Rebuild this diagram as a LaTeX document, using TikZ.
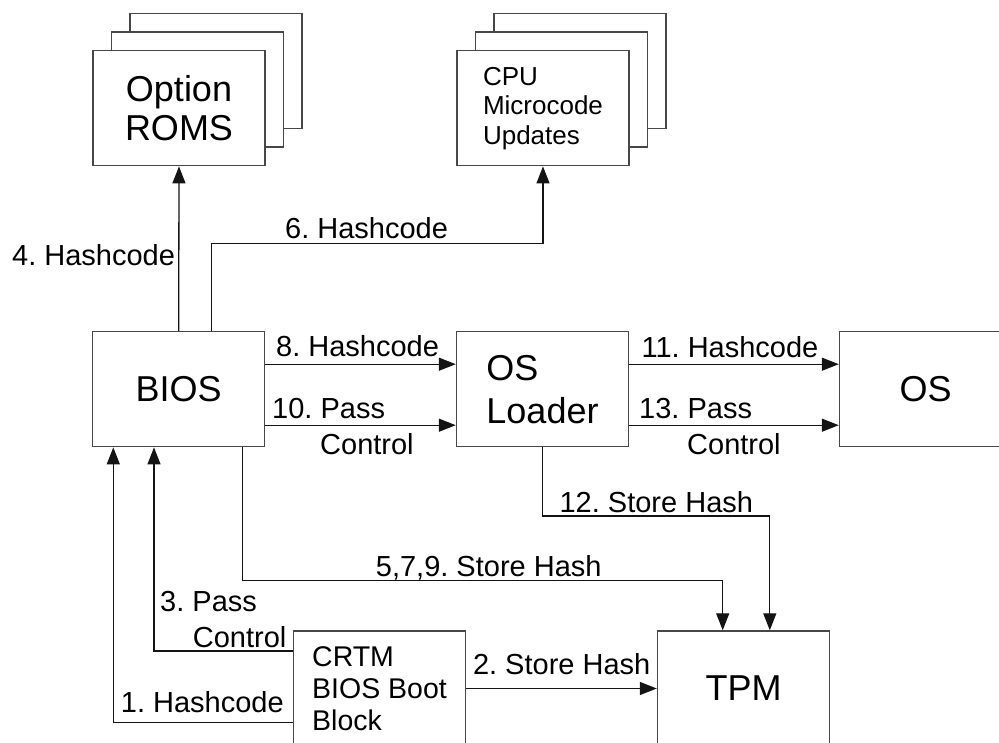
\documentclass[tikz,border=0pt]{standalone}
\usepackage{fontspec}
\setmainfont{Liberation Sans}
\usetikzlibrary{arrows.meta,calc}
\frenchspacing
\begin{document}
\begin{tikzpicture}[x=1pt,y=-1pt,
  box/.style={draw=black!72, line width=1.4pt, fill=white,
    minimum width=172pt, minimum height=115pt, inner sep=0pt},
  big/.style={font=\fontsize{36}{43}\selectfont},
  lbl/.style={font=\fontsize{29}{36}\selectfont, inner sep=0pt, anchor=base west},
  wire/.style={draw=black!92, line width=1.3pt},
  flow/.style={wire, -{Triangle[length=17pt,width=13pt]}}
]
\useasboundingbox (0,0) rectangle (999,743);

% stacked sheets behind the option ROMs and microcode updates
\node[box] (rom3) at (216,71.2) {};
\node[box] (rom2) at (197.5,89.7) {};
\node[box, align=center, font=\fontsize{36}{38.3}\selectfont] (rom) at (179,108.2) {Option\\ROMS};

\node[box] (cpu3) at (580,71.2) {};
\node[box] (cpu2) at (561.5,89.7) {};
\node[box, align=left, font=\fontsize{26}{29.5}\selectfont] (cpu) at (543,108.2) {CPU\\Microcode\\Updates};

% main boot chain
\node[box, big] (bios) at (178.7,389.2) {BIOS};
\node[box, big, align=left] (ldr) at (542.5,389.2) {OS\\Loader};
\node[box, big] (os) at (925.5,389.2) {OS};
\node[box, align=left, font=\fontsize{28.5}{32.2}\selectfont] (crtm) at (379.5,688.5) {CRTM\\BIOS Boot\\Block};
\node[box, big] (tpm) at (743.5,688.5) {TPM};

% bends of the routed connectors
\coordinate (k6) at (211.5,243.3);
\coordinate (k12) at (769.8,516);
\coordinate (k5s) at (242.7,580.3);
\coordinate (k5) at (722.7,580.3);
\coordinate (k3) at (154,651);
\coordinate (k1) at (113.3,722.7);

% connectors
\draw[flow] (bios.north) -- (rom.south);
\draw[flow] (bios.north -| k6) -- (k6) -| (cpu.south);
\draw[flow] ([yshift=25pt]bios.east) -- ([yshift=25pt]ldr.west);
\draw[flow] ([yshift=-36pt]bios.east) -- ([yshift=-36pt]ldr.west);
\draw[flow] ([yshift=25pt]ldr.east) -- ([yshift=25pt]os.west);
\draw[flow] ([yshift=-36pt]ldr.east) -- ([yshift=-36pt]os.west);
\draw[flow] (ldr.south) |- (k12) -- (k12 |- tpm.north);
\draw[flow] (k5s |- bios.south) -- (k5s) -- (k5) -- (k5 |- tpm.north);
\draw[flow] (crtm.west |- k3) -- (k3) -- (k3 |- bios.south);
\draw[flow] (crtm.west |- k1) -- (k1) -- (k1 |- bios.south);
\draw[flow] (crtm.east) -- (tpm.west);

% connector labels
\node[lbl] (l4) at (12,265.4) {4. Hashcode};
\node[lbl] (l6) at (285,238.4) {6. Hashcode};
\node[lbl] (l8) at (276,356.4) {8. Hashcode};
\node[lbl] (l10a) at (272,418.4) {10. Pass};
\node[lbl] (l10b) at (320,454.4) {Control};
\node[lbl] (l11) at (641.4,357.1) {11. Hashcode};
\node[lbl] (l13a) at (639,418.4) {13. Pass};
\node[lbl] (l13b) at (687,454.4) {Control};
\node[lbl] (l12) at (559.4,512.1) {12. Store Hash};
\node[lbl] (l5) at (375.7,576.4) {5,7,9. Store Hash};
\node[lbl] (l3a) at (160,611.4) {3. Pass};
\node[lbl] (l3b) at (192.7,647) {Control};
\node[lbl] (l1) at (120.7,712.4) {1. Hashcode};
\node[lbl] (l2) at (472.8,674.7) {2. Store Hash};
\end{tikzpicture}
\end{document}
